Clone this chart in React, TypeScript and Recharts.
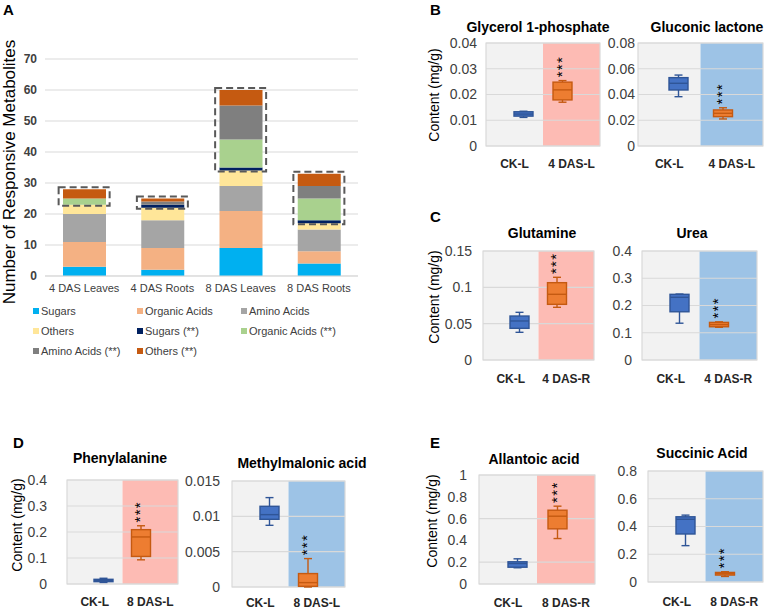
import {
  BarChart,
  Bar,
  ComposedChart,
  XAxis,
  YAxis,
  CartesianGrid,
  ReferenceArea,
} from "recharts";

const FONT = '"Liberation Sans", Arial, Helvetica, sans-serif';

// ---- panel A: responsive metabolite counts (stacked) ----
const GROUPS = ["4 DAS Leaves", "4 DAS Roots", "8 DAS Leaves", "8 DAS Roots"];
const SUGARS = [3, 2, 9, 4];
const ORGANIC = [8, 7, 12, 4];
const AMINO = [9, 9, 8, 7];
const OTHERS = [3, 4, 5, 2];
const SUGARS_SIG = [0, 1, 1, 1];
const ORGANIC_SIG = [2, 0, 9, 7];
const AMINO_SIG = [0, 1, 11, 4];
const OTHERS_SIG = [3, 1, 5, 4];
const COUNT_TICKS = [0, 10, 20, 30, 40, 50, 60, 70];

const SERIES = [
  { key: "sugars", name: "Sugars", values: SUGARS, color: "#00b0f0" },
  { key: "organic", name: "Organic Acids", values: ORGANIC, color: "#f4b183" },
  { key: "amino", name: "Amino Acids", values: AMINO, color: "#a5a5a5" },
  { key: "others", name: "Others", values: OTHERS, color: "#ffe699" },
  { key: "sugarsSig", name: "Sugars (**)", values: SUGARS_SIG, color: "#002060" },
  { key: "organicSig", name: "Organic Acids (**)", values: ORGANIC_SIG, color: "#a9d18e" },
  { key: "aminoSig", name: "Amino Acids (**)", values: AMINO_SIG, color: "#7f7f7f" },
  { key: "othersSig", name: "Others (**)", values: OTHERS_SIG, color: "#c55a11" },
];

// ---- panels B-E: box plots, [min, q1, median, q3, max] per group ----
const GLYCEROL = [
  [0.0111, 0.0116, 0.0124, 0.0133, 0.0135],
  [0.017, 0.0179, 0.0218, 0.0248, 0.0254],
];
const GLUCONIC = [
  [0.0383, 0.0435, 0.0487, 0.0531, 0.0551],
  [0.021, 0.0228, 0.0254, 0.028, 0.0297],
];
const GLUTAMINE = [
  [0.0381, 0.0436, 0.0537, 0.0605, 0.0656],
  [0.0725, 0.0766, 0.0904, 0.1064, 0.1138],
];
const UREA = [
  [0.135, 0.177, 0.23, 0.241, 0.242],
  [0.12, 0.122, 0.13, 0.138, 0.14],
];
const PHENYLALANINE = [
  [0.006, 0.009, 0.013, 0.018, 0.022],
  [0.093, 0.106, 0.181, 0.209, 0.224],
];
const METHYLMALONIC = [
  [0.00873, 0.00958, 0.01024, 0.01142, 0.01265],
  [0.0, 0.0001, 0.00062, 0.0019, 0.00402],
];
const ALLANTOIC = [
  [0.149, 0.154, 0.188, 0.204, 0.231],
  [0.417, 0.506, 0.622, 0.677, 0.714],
];
const SUCCINIC = [
  [0.262, 0.346, 0.452, 0.47, 0.482],
  [0.04, 0.05, 0.06, 0.069, 0.074],
];

const BOX_TONES = [
  { fill: "#4472c4", stroke: "#2f5597" },
  { fill: "#ed7d31", stroke: "#c55a11" },
];
const BAND_GRAY = "#f2f2f2";
const BAND_PINK = "#fdbbb4";
const BAND_BLUE = "#9dc3e6";

const countData = GROUPS.map((group, i) => {
  const row: Record<string, string | number> = { group };
  SERIES.forEach((s) => (row[s.key] = s.values[i]));
  return row;
});
const sigBase = GROUPS.map((_, i) => SUGARS[i] + ORGANIC[i] + AMINO[i] + OTHERS[i]);
const sigTop = GROUPS.map(
  (_, i) => sigBase[i] + SUGARS_SIG[i] + ORGANIC_SIG[i] + AMINO_SIG[i] + OTHERS_SIG[i]
);

// eslint-disable-next-line @typescript-eslint/no-explicit-any
function DashedBox(props: any) {
  const { x, y, width, height } = props;
  const w = 51;
  return (
    <rect
      x={x + width / 2 - w / 2}
      y={y - 2}
      width={w}
      height={height + 3}
      fill="none"
      stroke="#595959"
      strokeWidth={2}
      strokeDasharray="7 4"
    />
  );
}

// eslint-disable-next-line @typescript-eslint/no-explicit-any
function BoxShape(props: any) {
  const { x, y, width, height, payload } = props;
  if (!payload) return null;
  const [lo, q1, med, q3, hi] = payload.stats;
  const tone = BOX_TONES[payload.tone];
  const span = hi - lo || 1;
  const py = (v: number) => y + (height * (hi - v)) / span;
  const cx = x + width / 2;
  const cap = 4;
  const sw = 1.4;
  // significance marks: "***" stacked vertically above the upper whisker
  const fs = 15;
  const starMid = py(hi) - 14;
  const sx = cx + 4.5;
  return (
    <g>
      <line x1={cx} x2={cx} y1={py(hi)} y2={py(q3)} stroke={tone.stroke} strokeWidth={sw} />
      <line x1={cx} x2={cx} y1={py(q1)} y2={py(lo)} stroke={tone.stroke} strokeWidth={sw} />
      <line x1={cx - cap} x2={cx + cap} y1={py(hi)} y2={py(hi)} stroke={tone.stroke} strokeWidth={sw} />
      <line x1={cx - cap} x2={cx + cap} y1={py(lo)} y2={py(lo)} stroke={tone.stroke} strokeWidth={sw} />
      <rect
        x={x}
        y={py(q3)}
        width={width}
        height={Math.max(py(q1) - py(q3), 1)}
        fill={tone.fill}
        stroke={tone.stroke}
        strokeWidth={sw}
      />
      <line x1={x} x2={x + width} y1={py(med)} y2={py(med)} stroke={tone.stroke} strokeWidth={sw} />
      {payload.sig && (
        <text
          x={sx}
          y={starMid}
          textAnchor="middle"
          fontSize={fs}
          letterSpacing={1.3}
          fill="#000"
          transform={`rotate(-90 ${sx} ${starMid})`}
        >
          ***
        </text>
      )}
    </g>
  );
}

interface BoxSpec {
  title: string;
  titleX: number;
  titleY: number;
  left: number;
  top: number;
  w: number;
  h: number;
  cats: string[];
  stats: number[][];
  ticks: number[];
  band: string;
  gap: number;
  xOff: number;
}

const BOX_SPECS: BoxSpec[] = [
  { title: "Glycerol 1-phosphate", titleX: 538, titleY: 28, left: 486, top: 43, w: 114, h: 103, cats: ["CK-L", "4 DAS-L"], stats: GLYCEROL, ticks: [0, 0.01, 0.02, 0.03, 0.04], band: BAND_PINK, gap: 9, xOff: 17 },
  { title: "Gluconic lactone", titleX: 707, titleY: 28, left: 638, top: 43, w: 125, h: 103, cats: ["CK-L", "4 DAS-L"], stats: GLUCONIC, ticks: [0, 0.02, 0.04, 0.06, 0.08], band: BAND_BLUE, gap: 3, xOff: 17 },
  { title: "Glutamine", titleX: 542, titleY: 234, left: 483, top: 251, w: 111, h: 109, cats: ["CK-L", "4 DAS-R"], stats: GLUTAMINE, ticks: [0, 0.05, 0.1, 0.15], band: BAND_PINK, gap: 11, xOff: 18 },
  { title: "Urea", titleX: 692, titleY: 234, left: 642, top: 251, w: 115, h: 109, cats: ["CK-L", "4 DAS-R"], stats: UREA, ticks: [0, 0.1, 0.2, 0.3, 0.4], band: BAND_BLUE, gap: 10, xOff: 18 },
  { title: "Phenylalanine", titleX: 120, titleY: 459, left: 67, top: 480, w: 111, h: 104, cats: ["CK-L", "8 DAS-L"], stats: PHENYLALANINE, ticks: [0, 0.1, 0.2, 0.3, 0.4], band: BAND_PINK, gap: 20, xOff: 17 },
  { title: "Methylmalonic acid", titleX: 302, titleY: 464, left: 232, top: 481, w: 113, h: 106, cats: ["CK-L", "8 DAS-L"], stats: METHYLMALONIC, ticks: [0, 0.005, 0.01, 0.015], band: BAND_BLUE, gap: 12, xOff: 15 },
  { title: "Allantoic acid", titleX: 534, titleY: 460, left: 479, top: 475, w: 116, h: 109, cats: ["CK-L", "8 DAS-R"], stats: ALLANTOIC, ticks: [0, 0.2, 0.4, 0.6, 0.8, 1], band: BAND_PINK, gap: 12, xOff: 18 },
  { title: "Succinic Acid", titleX: 702, titleY: 454, left: 648, top: 471, w: 115, h: 111, cats: ["CK-L", "8 DAS-R"], stats: SUCCINIC, ticks: [0, 0.2, 0.4, 0.6, 0.8], band: BAND_BLUE, gap: 11, xOff: 19 },
];

function BoxPanel({ spec }: { spec: BoxSpec }) {
  const yw = 60;
  const mt = 10;
  const data = spec.cats.map((name, i) => ({
    name,
    stats: spec.stats[i],
    tone: i,
    sig: i === 1,
  }));
  const yTop = spec.ticks[spec.ticks.length - 1];
  return (
    <>
      <div
        style={{
          position: "absolute",
          left: spec.titleX,
          top: spec.titleY - 9,
          transform: "translateX(-50%)",
          fontSize: 14,
          fontWeight: 700,
          whiteSpace: "nowrap",
          color: "#000",
        }}
      >
        {spec.title}
      </div>
      <div style={{ position: "absolute", left: spec.left - yw, top: spec.top - mt }}>
        <ComposedChart
          width={yw + spec.w + 2}
          height={mt + spec.h + 28}
          data={data}
          margin={{ top: mt, right: 2, left: 0, bottom: 0 }}
        >
          <XAxis
            dataKey="name"
            axisLine={false}
            tickLine={false}
            tickSize={0}
            tickMargin={spec.xOff - 4}
            height={28}
            interval={0}
            tick={{ fontSize: 12, fontWeight: 700, fill: "#262626" }}
          />
          <XAxis xAxisId="box" dataKey="name" hide padding={{ left: 18, right: 18 }} />
          <YAxis
            domain={[0, yTop]}
            ticks={spec.ticks}
            width={yw}
            axisLine={false}
            tickLine={false}
            tickSize={0}
            tickMargin={spec.gap}
            tick={{ fontSize: 14, fill: "#404040" }}
          />
          <ReferenceArea x1={spec.cats[0]} x2={spec.cats[0]} y1={0} y2={yTop} fill={BAND_GRAY} fillOpacity={1} stroke="none" zIndex={-200} />
          <ReferenceArea x1={spec.cats[1]} x2={spec.cats[1]} y1={0} y2={yTop} fill={spec.band} fillOpacity={1} stroke="none" zIndex={-200} />
          <CartesianGrid vertical={false} stroke="#d9d9d9" strokeWidth={1.2} />
          <ReferenceArea x1={spec.cats[0]} x2={spec.cats[1]} y1={0} y2={yTop} fill="none" stroke="#d9d9d9" strokeWidth={1.2} />
          <Bar
            xAxisId="box"
            dataKey={(d: { stats: number[] }) => [d.stats[0], d.stats[4]]}
            barSize={19}
            shape={BoxShape}
            isAnimationActive={false}
          />
        </ComposedChart>
      </div>
    </>
  );
}

function VLabel({ text, x, y, size }: { text: string; x: number; y: number; size: number }) {
  return (
    <div
      style={{
        position: "absolute",
        left: x,
        top: y,
        transform: "translate(-50%, -50%) rotate(-90deg)",
        fontSize: size,
        lineHeight: 1.1,
        whiteSpace: "nowrap",
        color: "#000",
      }}
    >
      {text}
    </div>
  );
}

function PanelLetter({ text, x, y }: { text: string; x: number; y: number }) {
  return (
    <div style={{ position: "absolute", left: x, top: y, fontSize: 15, fontWeight: 700, color: "#000" }}>
      {text}
    </div>
  );
}

export default function App() {
  return (
    <div
      style={{
        position: "relative",
        width: 767,
        height: 611,
        background: "#fff",
        fontFamily: FONT,
        overflow: "hidden",
      }}
    >
      <style>{"body{margin:0}"}</style>

      <PanelLetter text="A" x={3} y={1} />
      <VLabel text="Number of Responsive Metabolites" x={10} y={172} size={17} />
      <div style={{ position: "absolute", left: 0, top: 0 }}>
        <BarChart
          width={368}
          height={306}
          data={countData}
          margin={{ top: 59, right: 10, left: 0, bottom: 0 }}
        >
          <CartesianGrid vertical={false} stroke="#d9d9d9" />
          <XAxis
            dataKey="group"
            axisLine={{ stroke: "#d9d9d9" }}
            tickLine={false}
            tickSize={0}
            tickMargin={8}
            height={30}
            interval={0}
            tick={{ fontSize: 11, fill: "#404040" }}
          />
          <YAxis
            domain={[0, 70]}
            ticks={COUNT_TICKS}
            width={45}
            axisLine={false}
            tickLine={false}
            tickSize={0}
            tickMargin={8}
            tick={{ fontSize: 12, fontWeight: 700, fill: "#404040" }}
          />
          {SERIES.map((s) => (
            <Bar
              key={s.key}
              dataKey={s.key}
              name={s.name}
              stackId="count"
              fill={s.color}
              barSize={43}
              isAnimationActive={false}
            />
          ))}
          {GROUPS.map((g, i) => (
            <ReferenceArea
              key={g}
              x1={g}
              x2={g}
              y1={sigBase[i]}
              y2={sigTop[i]}
              shape={DashedBox}
              ifOverflow="visible"
              zIndex={1500}
            />
          ))}
        </BarChart>
      </div>
      <div
        style={{
          position: "absolute",
          left: 33,
          top: 301,
          display: "grid",
          gridTemplateColumns: "104px 104px 130px",
          rowGap: 0,
          fontSize: 11,
          color: "#404040",
        }}
      >
        {SERIES.map((s) => (
          <div key={s.key} style={{ display: "flex", alignItems: "center", height: 20, whiteSpace: "nowrap" }}>
            <span style={{ width: 6, height: 6, background: s.color, marginRight: 2, display: "inline-block" }} />
            {s.name}
          </div>
        ))}
      </div>

      <PanelLetter text="B" x={430} y={1} />
      <PanelLetter text="C" x={430} y={208} />
      <PanelLetter text="D" x={13} y={434} />
      <PanelLetter text="E" x={430} y={434} />

      <VLabel text="Content (mg/g)" x={435} y={95} size={14} />
      <VLabel text="Content (mg/g)" x={435} y={297} size={14} />
      <VLabel text="Content (mg/g)" x={18} y={525} size={14} />
      <VLabel text="Content (mg/g)" x={433} y={521} size={14} />

      {BOX_SPECS.map((spec) => (
        <BoxPanel key={spec.title} spec={spec} />
      ))}
    </div>
  );
}
